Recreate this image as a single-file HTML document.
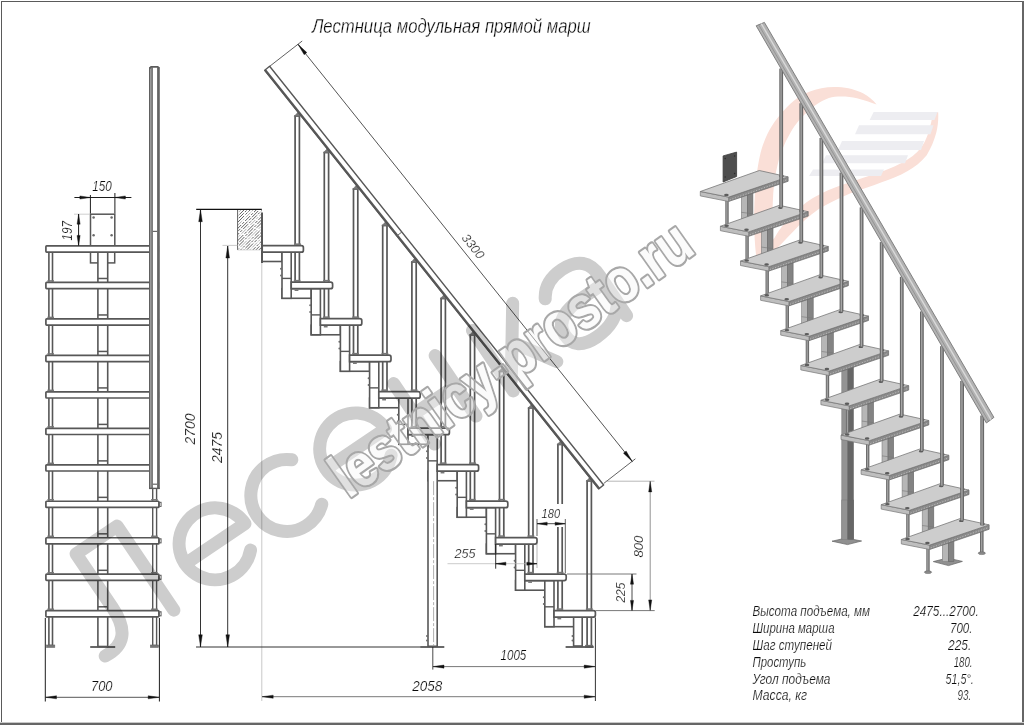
<!DOCTYPE html>
<html lang="ru"><head><meta charset="utf-8"><title>Лестница модульная прямой марш</title>
<style>html,body{margin:0;padding:0;background:#fff;overflow:hidden}svg{display:block;font-family:"Liberation Sans",sans-serif}</style></head><body>
<svg width="1024" height="725" viewBox="0 0 1024 725">
<rect x="0" y="0" width="1024" height="725" fill="#fff"/>
<rect x="1" y="1" width="1021" height="1" fill="#5a5a5a"/>
<rect x="1" y="1" width="1" height="722" fill="#5a5a5a"/>
<rect x="1022" y="1" width="2" height="724" fill="#666"/>
<rect x="0" y="722" width="1024" height="1" fill="#c8c8c8"/>
<rect x="0" y="723" width="1024" height="2" fill="#666"/>
<g id="front">
<rect x="90.50" y="214.20" width="24.30" height="31.70" fill="#fff" stroke="#575757" stroke-width="1.5" rx="0" />
<circle cx="93.6" cy="217.6" r="1.25" fill="#6a6a6a"/>
<circle cx="93.6" cy="235.3" r="1.25" fill="#6a6a6a"/>
<circle cx="111.6" cy="217.6" r="1.25" fill="#6a6a6a"/>
<circle cx="111.6" cy="235.3" r="1.25" fill="#6a6a6a"/>
<rect x="90.50" y="252.10" width="24.20" height="10.80" fill="#fff" stroke="#575757" stroke-width="1.5" rx="0" />
<rect x="48.90" y="250.00" width="3.60" height="395.50" fill="#fff" stroke="#575757" stroke-width="1.6" rx="0" />
<rect x="46.60" y="645.00" width="8.20" height="2.40" fill="#777" stroke="#666" stroke-width="0.6" rx="0" />
<rect x="152.70" y="486.00" width="3.90" height="159.50" fill="#fff" stroke="#575757" stroke-width="1.4" rx="0" />
<rect x="150.40" y="645.00" width="8.00" height="2.40" fill="#777" stroke="#666" stroke-width="0.6" rx="0" />
<rect x="97.90" y="250.00" width="9.80" height="396.50" fill="#fff" stroke="#575757" stroke-width="1.6" rx="0" />
<line x1="90.20" y1="647.00" x2="115.20" y2="647.00" stroke="#575757" stroke-width="1.8" />
<rect x="45.90" y="245.90" width="113.00" height="6.20" fill="#fff" stroke="#575757" stroke-width="1.7" rx="0.8" />
<rect x="45.90" y="282.38" width="113.00" height="6.20" fill="#fff" stroke="#575757" stroke-width="1.7" rx="0.8" />
<line x1="97.90" y1="278.48" x2="107.70" y2="278.48" stroke="#575757" stroke-width="1.5" />
<rect x="47.4" y="280.18" width="6.6" height="1.6" fill="#777"/>
<rect x="45.90" y="318.86" width="113.00" height="6.20" fill="#fff" stroke="#575757" stroke-width="1.7" rx="0.8" />
<line x1="97.90" y1="314.96" x2="107.70" y2="314.96" stroke="#575757" stroke-width="1.5" />
<rect x="47.4" y="316.66" width="6.6" height="1.6" fill="#777"/>
<rect x="45.90" y="355.34" width="113.00" height="6.20" fill="#fff" stroke="#575757" stroke-width="1.7" rx="0.8" />
<line x1="97.90" y1="351.44" x2="107.70" y2="351.44" stroke="#575757" stroke-width="1.5" />
<rect x="47.4" y="353.14" width="6.6" height="1.6" fill="#777"/>
<rect x="45.90" y="391.82" width="113.00" height="6.20" fill="#fff" stroke="#575757" stroke-width="1.7" rx="0.8" />
<line x1="97.90" y1="387.92" x2="107.70" y2="387.92" stroke="#575757" stroke-width="1.5" />
<rect x="47.4" y="389.62" width="6.6" height="1.6" fill="#777"/>
<rect x="45.90" y="428.30" width="113.00" height="6.20" fill="#fff" stroke="#575757" stroke-width="1.7" rx="0.8" />
<line x1="97.90" y1="424.40" x2="107.70" y2="424.40" stroke="#575757" stroke-width="1.5" />
<rect x="47.4" y="426.10" width="6.6" height="1.6" fill="#777"/>
<rect x="45.90" y="464.78" width="113.00" height="6.20" fill="#fff" stroke="#575757" stroke-width="1.7" rx="0.8" />
<line x1="97.90" y1="460.88" x2="107.70" y2="460.88" stroke="#575757" stroke-width="1.5" />
<rect x="47.4" y="462.58" width="6.6" height="1.6" fill="#777"/>
<rect x="45.90" y="501.26" width="113.00" height="6.20" fill="#fff" stroke="#575757" stroke-width="1.7" rx="0.8" />
<line x1="97.90" y1="497.36" x2="107.70" y2="497.36" stroke="#575757" stroke-width="1.5" />
<rect x="47.4" y="499.06" width="6.6" height="1.6" fill="#777"/>
<rect x="159.6" y="502.26" width="1.5" height="4.2" fill="#fff" stroke="#575757" stroke-width="0.9"/>
<rect x="151.1" y="499.06" width="6.6" height="1.6" fill="#777"/>
<rect x="45.90" y="537.74" width="113.00" height="6.20" fill="#fff" stroke="#575757" stroke-width="1.7" rx="0.8" />
<line x1="97.90" y1="533.84" x2="107.70" y2="533.84" stroke="#575757" stroke-width="1.5" />
<rect x="47.4" y="535.54" width="6.6" height="1.6" fill="#777"/>
<rect x="159.6" y="538.74" width="1.5" height="4.2" fill="#fff" stroke="#575757" stroke-width="0.9"/>
<rect x="151.1" y="535.54" width="6.6" height="1.6" fill="#777"/>
<rect x="45.90" y="574.22" width="113.00" height="6.20" fill="#fff" stroke="#575757" stroke-width="1.7" rx="0.8" />
<line x1="97.90" y1="570.32" x2="107.70" y2="570.32" stroke="#575757" stroke-width="1.5" />
<rect x="47.4" y="572.02" width="6.6" height="1.6" fill="#777"/>
<rect x="159.6" y="575.22" width="1.5" height="4.2" fill="#fff" stroke="#575757" stroke-width="0.9"/>
<rect x="151.1" y="572.02" width="6.6" height="1.6" fill="#777"/>
<rect x="45.90" y="610.70" width="113.00" height="6.20" fill="#fff" stroke="#575757" stroke-width="1.7" rx="0.8" />
<line x1="97.90" y1="606.80" x2="107.70" y2="606.80" stroke="#575757" stroke-width="1.5" />
<rect x="47.4" y="608.50" width="6.6" height="1.6" fill="#777"/>
<rect x="159.6" y="611.70" width="1.5" height="4.2" fill="#fff" stroke="#575757" stroke-width="0.9"/>
<rect x="151.1" y="608.50" width="6.6" height="1.6" fill="#777"/>
<path d="M149.0 488.6 V68.2 L150.8 66.1 H158.0 L159.8 68.2 V488.6 Z" fill="#fff" stroke="none"/>
<rect x="149.0" y="67.4" width="3.7" height="421.4" fill="#a9a9a9"/>
<rect x="149.0" y="67.4" width="1.2" height="421.4" fill="#606060"/>
<rect x="151.5" y="67.4" width="1.2" height="421.4" fill="#606060"/>
<rect x="157.1" y="67.4" width="2.7" height="421.4" fill="#646464"/>
<path d="M149.6 68.4 L151.0 66.9 H157.8 L159.2 68.4" fill="none" stroke="#5c5c5c" stroke-width="1.7" stroke-linejoin="round"/>
<line x1="152.70" y1="231.40" x2="157.10" y2="231.40" stroke="#666" stroke-width="1.2" />
<line x1="149.00" y1="488.40" x2="159.80" y2="488.40" stroke="#5c5c5c" stroke-width="1.4" />
<line x1="152.70" y1="484.20" x2="157.10" y2="484.20" stroke="#666" stroke-width="1.2" />
<line x1="90.40" y1="195.00" x2="90.40" y2="213.50" stroke="#1c1c1c" stroke-width="1.0" />
<line x1="114.90" y1="193.00" x2="114.90" y2="213.50" stroke="#1c1c1c" stroke-width="1.0" />
<line x1="74.40" y1="197.50" x2="131.40" y2="197.50" stroke="#1c1c1c" stroke-width="1.0" />
<polygon points="90.40,197.50 79.90,195.95 79.90,199.05" fill="#111" stroke="#111" stroke-width="0.4"/>
<polygon points="114.90,197.50 125.40,199.05 125.40,195.95" fill="#111" stroke="#111" stroke-width="0.4"/>
<text x="92.30" y="190.60" font-size="14" text-anchor="start" fill="#0a0a0a" font-style="italic" font-weight="normal" stroke="#fff" stroke-width="0.22" textLength="19.5" lengthAdjust="spacingAndGlyphs" >150</text>
<line x1="74.00" y1="214.20" x2="90.00" y2="214.20" stroke="#c4c4c4" stroke-width="0.8" />
<line x1="78.60" y1="214.00" x2="78.60" y2="245.60" stroke="#1c1c1c" stroke-width="1.0" />
<polygon points="78.60,214.20 77.05,224.20 80.15,224.20" fill="#111" stroke="#111" stroke-width="0.4"/>
<polygon points="78.60,245.40 80.15,235.40 77.05,235.40" fill="#111" stroke="#111" stroke-width="0.4"/>
<text x="71.60" y="240.50" font-size="14" text-anchor="start" fill="#0a0a0a" font-style="italic" font-weight="normal" stroke="#fff" stroke-width="0.22" textLength="19.5" lengthAdjust="spacingAndGlyphs" transform="rotate(-90 71.60 240.50)" >197</text>
<line x1="45.30" y1="618.00" x2="45.30" y2="701.50" stroke="#1c1c1c" stroke-width="1.0" />
<line x1="159.40" y1="618.00" x2="159.40" y2="701.50" stroke="#1c1c1c" stroke-width="1.0" />
<line x1="45.30" y1="697.30" x2="159.40" y2="697.30" stroke="#444" stroke-width="0.9" />
<polygon points="45.50,697.30 56.50,698.85 56.50,695.75" fill="#111" stroke="#111" stroke-width="0.4"/>
<polygon points="159.20,697.30 148.20,695.75 148.20,698.85" fill="#111" stroke="#111" stroke-width="0.4"/>
<text x="91.00" y="690.60" font-size="14" text-anchor="start" fill="#0a0a0a" font-style="italic" font-weight="normal" stroke="#fff" stroke-width="0.22" textLength="21.5" lengthAdjust="spacingAndGlyphs" >700</text>
</g>
<g id="side">
<line x1="261.80" y1="262.00" x2="261.80" y2="701.00" stroke="#c2c2c2" stroke-width="0.9" />
<clipPath id="wc"><rect x="237.5" y="209.5" width="24.3" height="40.5"/></clipPath>
<g clip-path="url(#wc)">
<line x1="188.70" y1="250.00" x2="229.20" y2="209.50" stroke="#9a9a9a" stroke-width="0.8" stroke-dasharray="7 1.5 2.5 1.5" stroke-dashoffset="8"/>
<line x1="191.75" y1="250.00" x2="232.25" y2="209.50" stroke="#3a3a3a" stroke-width="0.8" stroke-dasharray="3 1.2 9 1.8" stroke-dashoffset="2"/>
<line x1="194.80" y1="250.00" x2="235.30" y2="209.50" stroke="#3a3a3a" stroke-width="0.8" stroke-dasharray="7 1.5 2.5 1.5" stroke-dashoffset="7"/>
<line x1="197.85" y1="250.00" x2="238.35" y2="209.50" stroke="#3a3a3a" stroke-width="0.8" stroke-dasharray="7 1.5 2.5 1.5" stroke-dashoffset="1"/>
<line x1="200.90" y1="250.00" x2="241.40" y2="209.50" stroke="#9a9a9a" stroke-width="0.8" stroke-dasharray="3 1.2 9 1.8" stroke-dashoffset="6"/>
<line x1="203.95" y1="250.00" x2="244.45" y2="209.50" stroke="#3a3a3a" stroke-width="0.8" stroke-dasharray="7 1.5 2.5 1.5" stroke-dashoffset="0"/>
<line x1="207.00" y1="250.00" x2="247.50" y2="209.50" stroke="#3a3a3a" stroke-width="0.8" stroke-dasharray="7 1.5 2.5 1.5" stroke-dashoffset="5"/>
<line x1="210.05" y1="250.00" x2="250.55" y2="209.50" stroke="#3a3a3a" stroke-width="0.8" stroke-dasharray="3 1.2 9 1.8" stroke-dashoffset="10"/>
<line x1="213.10" y1="250.00" x2="253.60" y2="209.50" stroke="#9a9a9a" stroke-width="0.8" stroke-dasharray="7 1.5 2.5 1.5" stroke-dashoffset="4"/>
<line x1="216.15" y1="250.00" x2="256.65" y2="209.50" stroke="#3a3a3a" stroke-width="0.8" stroke-dasharray="7 1.5 2.5 1.5" stroke-dashoffset="9"/>
<line x1="219.20" y1="250.00" x2="259.70" y2="209.50" stroke="#3a3a3a" stroke-width="0.8" stroke-dasharray="3 1.2 9 1.8" stroke-dashoffset="3"/>
<line x1="222.25" y1="250.00" x2="262.75" y2="209.50" stroke="#3a3a3a" stroke-width="0.8" stroke-dasharray="7 1.5 2.5 1.5" stroke-dashoffset="8"/>
<line x1="225.30" y1="250.00" x2="265.80" y2="209.50" stroke="#9a9a9a" stroke-width="0.8" stroke-dasharray="7 1.5 2.5 1.5" stroke-dashoffset="2"/>
<line x1="228.35" y1="250.00" x2="268.85" y2="209.50" stroke="#3a3a3a" stroke-width="0.8" stroke-dasharray="3 1.2 9 1.8" stroke-dashoffset="7"/>
<line x1="231.40" y1="250.00" x2="271.90" y2="209.50" stroke="#3a3a3a" stroke-width="0.8" stroke-dasharray="7 1.5 2.5 1.5" stroke-dashoffset="1"/>
<line x1="234.45" y1="250.00" x2="274.95" y2="209.50" stroke="#3a3a3a" stroke-width="0.8" stroke-dasharray="7 1.5 2.5 1.5" stroke-dashoffset="6"/>
<line x1="237.50" y1="250.00" x2="278.00" y2="209.50" stroke="#9a9a9a" stroke-width="0.8" stroke-dasharray="3 1.2 9 1.8" stroke-dashoffset="0"/>
<line x1="240.55" y1="250.00" x2="281.05" y2="209.50" stroke="#3a3a3a" stroke-width="0.8" stroke-dasharray="7 1.5 2.5 1.5" stroke-dashoffset="5"/>
<line x1="243.60" y1="250.00" x2="284.10" y2="209.50" stroke="#3a3a3a" stroke-width="0.8" stroke-dasharray="7 1.5 2.5 1.5" stroke-dashoffset="10"/>
<line x1="246.65" y1="250.00" x2="287.15" y2="209.50" stroke="#3a3a3a" stroke-width="0.8" stroke-dasharray="3 1.2 9 1.8" stroke-dashoffset="4"/>
<line x1="249.70" y1="250.00" x2="290.20" y2="209.50" stroke="#9a9a9a" stroke-width="0.8" stroke-dasharray="7 1.5 2.5 1.5" stroke-dashoffset="9"/>
<line x1="252.75" y1="250.00" x2="293.25" y2="209.50" stroke="#3a3a3a" stroke-width="0.8" stroke-dasharray="7 1.5 2.5 1.5" stroke-dashoffset="3"/>
<line x1="255.80" y1="250.00" x2="296.30" y2="209.50" stroke="#3a3a3a" stroke-width="0.8" stroke-dasharray="3 1.2 9 1.8" stroke-dashoffset="8"/>
<line x1="258.85" y1="250.00" x2="299.35" y2="209.50" stroke="#3a3a3a" stroke-width="0.8" stroke-dasharray="7 1.5 2.5 1.5" stroke-dashoffset="2"/>
<line x1="261.90" y1="250.00" x2="302.40" y2="209.50" stroke="#9a9a9a" stroke-width="0.8" stroke-dasharray="7 1.5 2.5 1.5" stroke-dashoffset="7"/>
<line x1="264.95" y1="250.00" x2="305.45" y2="209.50" stroke="#3a3a3a" stroke-width="0.8" stroke-dasharray="3 1.2 9 1.8" stroke-dashoffset="1"/>
<line x1="268.00" y1="250.00" x2="308.50" y2="209.50" stroke="#3a3a3a" stroke-width="0.8" stroke-dasharray="7 1.5 2.5 1.5" stroke-dashoffset="6"/>
<line x1="271.05" y1="250.00" x2="311.55" y2="209.50" stroke="#3a3a3a" stroke-width="0.8" stroke-dasharray="7 1.5 2.5 1.5" stroke-dashoffset="0"/>
</g>
<line x1="262.00" y1="212.50" x2="262.00" y2="263.00" stroke="#575757" stroke-width="2.0" />
<line x1="237.60" y1="209.50" x2="237.60" y2="250.00" stroke="#555" stroke-width="0.9" />
<line x1="237.50" y1="250.00" x2="262.50" y2="250.00" stroke="#cfcfcf" stroke-width="0.7" />
<line x1="196.00" y1="647.00" x2="421.00" y2="647.00" stroke="#333" stroke-width="1.0" />
<rect x="295.10" y="116.00" width="4.30" height="166.19" fill="#fff" stroke="#575757" stroke-width="1.7" rx="0" />
<polygon points="294.25,116.30 298.55,111.60 300.25,116.30" fill="#777" stroke="#6a6a6a" stroke-width="0.5" stroke-linejoin="round" />
<rect x="324.30" y="152.49" width="4.30" height="166.19" fill="#fff" stroke="#575757" stroke-width="1.7" rx="0" />
<polygon points="323.45,152.79 327.75,148.09 329.45,152.79" fill="#777" stroke="#6a6a6a" stroke-width="0.5" stroke-linejoin="round" />
<rect x="353.50" y="188.98" width="4.30" height="166.19" fill="#fff" stroke="#575757" stroke-width="1.7" rx="0" />
<polygon points="352.65,189.28 356.95,184.58 358.65,189.28" fill="#777" stroke="#6a6a6a" stroke-width="0.5" stroke-linejoin="round" />
<rect x="382.70" y="225.47" width="4.30" height="166.19" fill="#fff" stroke="#575757" stroke-width="1.7" rx="0" />
<polygon points="381.85,225.77 386.15,221.07 387.85,225.77" fill="#777" stroke="#6a6a6a" stroke-width="0.5" stroke-linejoin="round" />
<rect x="411.90" y="261.96" width="4.30" height="166.19" fill="#fff" stroke="#575757" stroke-width="1.7" rx="0" />
<polygon points="411.05,262.26 415.35,257.56 417.05,262.26" fill="#777" stroke="#6a6a6a" stroke-width="0.5" stroke-linejoin="round" />
<rect x="441.10" y="298.45" width="4.30" height="166.19" fill="#fff" stroke="#575757" stroke-width="1.7" rx="0" />
<polygon points="440.25,298.75 444.55,294.05 446.25,298.75" fill="#777" stroke="#6a6a6a" stroke-width="0.5" stroke-linejoin="round" />
<rect x="470.30" y="334.94" width="4.30" height="166.19" fill="#fff" stroke="#575757" stroke-width="1.7" rx="0" />
<polygon points="469.45,335.24 473.75,330.54 475.45,335.24" fill="#777" stroke="#6a6a6a" stroke-width="0.5" stroke-linejoin="round" />
<rect x="499.50" y="371.43" width="4.30" height="166.19" fill="#fff" stroke="#575757" stroke-width="1.7" rx="0" />
<polygon points="498.65,371.73 502.95,367.03 504.65,371.73" fill="#777" stroke="#6a6a6a" stroke-width="0.5" stroke-linejoin="round" />
<rect x="528.70" y="407.92" width="4.30" height="166.19" fill="#fff" stroke="#575757" stroke-width="1.7" rx="0" />
<polygon points="527.85,408.22 532.15,403.52 533.85,408.22" fill="#777" stroke="#6a6a6a" stroke-width="0.5" stroke-linejoin="round" />
<rect x="557.90" y="444.41" width="4.30" height="166.19" fill="#fff" stroke="#575757" stroke-width="1.7" rx="0" />
<polygon points="557.05,444.71 561.35,440.01 563.05,444.71" fill="#777" stroke="#6a6a6a" stroke-width="0.5" stroke-linejoin="round" />
<rect x="587.10" y="480.90" width="4.30" height="165.10" fill="#fff" stroke="#575757" stroke-width="1.7" rx="0" />
<polygon points="586.25,481.20 590.55,476.50 592.25,481.20" fill="#777" stroke="#6a6a6a" stroke-width="0.5" stroke-linejoin="round" />
<rect x="585.65" y="645.20" width="7.20" height="2.40" fill="#777" stroke="#666" stroke-width="0.6" rx="0" />
<rect x="262.20" y="252.20" width="19.80" height="9.30" fill="#fff" stroke="#575757" stroke-width="1.6" rx="0" />
<rect x="282.00" y="288.69" width="29.20" height="9.60" fill="#fff" stroke="#575757" stroke-width="1.6" rx="0" />
<rect x="282.00" y="252.20" width="9.20" height="46.09" fill="#fff" stroke="#575757" stroke-width="1.6" rx="0" />
<line x1="282.00" y1="278.40" x2="291.20" y2="278.40" stroke="#575757" stroke-width="1.4" />
<circle cx="281.00" cy="268.80" r="1.0" fill="#6a6a6a"/>
<circle cx="281.00" cy="275.50" r="1.0" fill="#6a6a6a"/>
<rect x="311.20" y="325.18" width="29.20" height="9.60" fill="#fff" stroke="#575757" stroke-width="1.6" rx="0" />
<rect x="311.20" y="288.69" width="9.20" height="46.09" fill="#fff" stroke="#575757" stroke-width="1.6" rx="0" />
<line x1="311.20" y1="314.89" x2="320.40" y2="314.89" stroke="#575757" stroke-width="1.4" />
<circle cx="310.20" cy="305.29" r="1.0" fill="#6a6a6a"/>
<circle cx="310.20" cy="311.99" r="1.0" fill="#6a6a6a"/>
<rect x="340.40" y="361.67" width="29.20" height="9.60" fill="#fff" stroke="#575757" stroke-width="1.6" rx="0" />
<rect x="340.40" y="325.18" width="9.20" height="46.09" fill="#fff" stroke="#575757" stroke-width="1.6" rx="0" />
<line x1="340.40" y1="351.38" x2="349.60" y2="351.38" stroke="#575757" stroke-width="1.4" />
<circle cx="339.40" cy="341.78" r="1.0" fill="#6a6a6a"/>
<circle cx="339.40" cy="348.48" r="1.0" fill="#6a6a6a"/>
<rect x="369.60" y="398.16" width="29.20" height="9.60" fill="#fff" stroke="#575757" stroke-width="1.6" rx="0" />
<rect x="369.60" y="361.67" width="9.20" height="46.09" fill="#fff" stroke="#575757" stroke-width="1.6" rx="0" />
<line x1="369.60" y1="387.87" x2="378.80" y2="387.87" stroke="#575757" stroke-width="1.4" />
<circle cx="368.60" cy="378.27" r="1.0" fill="#6a6a6a"/>
<circle cx="368.60" cy="384.97" r="1.0" fill="#6a6a6a"/>
<rect x="398.80" y="434.65" width="29.20" height="9.60" fill="#fff" stroke="#575757" stroke-width="1.6" rx="0" />
<rect x="398.80" y="398.16" width="9.20" height="46.09" fill="#fff" stroke="#575757" stroke-width="1.6" rx="0" />
<line x1="398.80" y1="424.36" x2="408.00" y2="424.36" stroke="#575757" stroke-width="1.4" />
<circle cx="397.80" cy="414.76" r="1.0" fill="#6a6a6a"/>
<circle cx="397.80" cy="421.46" r="1.0" fill="#6a6a6a"/>
<rect x="428.00" y="471.14" width="29.20" height="9.60" fill="#fff" stroke="#575757" stroke-width="1.6" rx="0" />
<rect x="428.00" y="434.65" width="9.20" height="211.65" fill="#fff" stroke="#575757" stroke-width="1.6" rx="0" />
<line x1="433.60" y1="481.14" x2="433.60" y2="646.00" stroke="#9a9a9a" stroke-width="0.8" stroke-dasharray="14 2 3 2"/>
<line x1="420.50" y1="647.00" x2="444.30" y2="647.00" stroke="#575757" stroke-width="1.8" />
<circle cx="427.00" cy="636" r="1.0" fill="#6a6a6a"/>
<circle cx="427.00" cy="640.5" r="1.0" fill="#6a6a6a"/>
<line x1="428.00" y1="460.85" x2="437.20" y2="460.85" stroke="#575757" stroke-width="1.4" />
<circle cx="427.00" cy="451.25" r="1.0" fill="#6a6a6a"/>
<circle cx="427.00" cy="457.95" r="1.0" fill="#6a6a6a"/>
<rect x="457.20" y="507.63" width="29.20" height="9.60" fill="#fff" stroke="#575757" stroke-width="1.6" rx="0" />
<rect x="457.20" y="471.14" width="9.20" height="46.09" fill="#fff" stroke="#575757" stroke-width="1.6" rx="0" />
<line x1="457.20" y1="497.34" x2="466.40" y2="497.34" stroke="#575757" stroke-width="1.4" />
<circle cx="456.20" cy="487.74" r="1.0" fill="#6a6a6a"/>
<circle cx="456.20" cy="494.44" r="1.0" fill="#6a6a6a"/>
<rect x="486.40" y="544.12" width="29.20" height="9.60" fill="#fff" stroke="#575757" stroke-width="1.6" rx="0" />
<rect x="486.40" y="507.63" width="9.20" height="46.09" fill="#fff" stroke="#575757" stroke-width="1.6" rx="0" />
<line x1="486.40" y1="533.83" x2="495.60" y2="533.83" stroke="#575757" stroke-width="1.4" />
<circle cx="485.40" cy="524.23" r="1.0" fill="#6a6a6a"/>
<circle cx="485.40" cy="530.93" r="1.0" fill="#6a6a6a"/>
<rect x="515.60" y="580.61" width="29.20" height="9.60" fill="#fff" stroke="#575757" stroke-width="1.6" rx="0" />
<rect x="515.60" y="544.12" width="9.20" height="46.09" fill="#fff" stroke="#575757" stroke-width="1.6" rx="0" />
<line x1="515.60" y1="570.32" x2="524.80" y2="570.32" stroke="#575757" stroke-width="1.4" />
<circle cx="514.60" cy="560.72" r="1.0" fill="#6a6a6a"/>
<circle cx="514.60" cy="567.42" r="1.0" fill="#6a6a6a"/>
<rect x="544.80" y="617.10" width="29.20" height="9.60" fill="#fff" stroke="#575757" stroke-width="1.6" rx="0" />
<rect x="544.80" y="580.61" width="9.20" height="46.09" fill="#fff" stroke="#575757" stroke-width="1.6" rx="0" />
<line x1="544.80" y1="606.81" x2="554.00" y2="606.81" stroke="#575757" stroke-width="1.4" />
<circle cx="543.80" cy="597.21" r="1.0" fill="#6a6a6a"/>
<circle cx="543.80" cy="603.91" r="1.0" fill="#6a6a6a"/>
<rect x="573.60" y="617.10" width="8.60" height="28.90" fill="#fff" stroke="#575757" stroke-width="1.6" rx="0" />
<line x1="565.60" y1="647.00" x2="593.70" y2="647.00" stroke="#575757" stroke-width="1.8" />
<circle cx="572.5" cy="636" r="1.0" fill="#6a6a6a"/>
<circle cx="572.5" cy="640.5" r="1.0" fill="#6a6a6a"/>
<path d="M262.20 245.70 H301.40 Q303.40 245.70 303.40 247.70 V250.20 Q303.40 252.20 301.40 252.20 H262.20 Z" fill="#fff" stroke="#575757" stroke-width="1.7"/>
<rect x="294.10" y="243.40" width="6.8" height="1.6" fill="#777"/>
<path d="M291.20 282.19 H330.60 Q332.60 282.19 332.60 284.19 V286.69 Q332.60 288.69 330.60 288.69 H291.20 Z" fill="#fff" stroke="#575757" stroke-width="1.7"/>
<rect x="293.80" y="279.89" width="6.6" height="1.6" fill="#777"/>
<rect x="294.60" y="289.39" width="3.8" height="1.6" fill="#777"/>
<rect x="323.10" y="279.89" width="6.8" height="1.6" fill="#777"/>
<path d="M320.40 318.68 H359.80 Q361.80 318.68 361.80 320.68 V323.18 Q361.80 325.18 359.80 325.18 H320.40 Z" fill="#fff" stroke="#575757" stroke-width="1.7"/>
<rect x="323.00" y="316.38" width="6.6" height="1.6" fill="#777"/>
<rect x="323.80" y="325.88" width="3.8" height="1.6" fill="#777"/>
<rect x="352.30" y="316.38" width="6.8" height="1.6" fill="#777"/>
<path d="M349.60 355.17 H389.00 Q391.00 355.17 391.00 357.17 V359.67 Q391.00 361.67 389.00 361.67 H349.60 Z" fill="#fff" stroke="#575757" stroke-width="1.7"/>
<rect x="352.20" y="352.87" width="6.6" height="1.6" fill="#777"/>
<rect x="353.00" y="362.37" width="3.8" height="1.6" fill="#777"/>
<rect x="381.50" y="352.87" width="6.8" height="1.6" fill="#777"/>
<path d="M378.80 391.66 H418.20 Q420.20 391.66 420.20 393.66 V396.16 Q420.20 398.16 418.20 398.16 H378.80 Z" fill="#fff" stroke="#575757" stroke-width="1.7"/>
<rect x="381.40" y="389.36" width="6.6" height="1.6" fill="#777"/>
<rect x="382.20" y="398.86" width="3.8" height="1.6" fill="#777"/>
<rect x="410.70" y="389.36" width="6.8" height="1.6" fill="#777"/>
<path d="M408.00 428.15 H447.40 Q449.40 428.15 449.40 430.15 V432.65 Q449.40 434.65 447.40 434.65 H408.00 Z" fill="#fff" stroke="#575757" stroke-width="1.7"/>
<rect x="410.60" y="425.85" width="6.6" height="1.6" fill="#777"/>
<rect x="411.40" y="435.35" width="3.8" height="1.6" fill="#777"/>
<rect x="439.90" y="425.85" width="6.8" height="1.6" fill="#777"/>
<path d="M437.20 464.64 H476.60 Q478.60 464.64 478.60 466.64 V469.14 Q478.60 471.14 476.60 471.14 H437.20 Z" fill="#fff" stroke="#575757" stroke-width="1.7"/>
<rect x="439.80" y="462.34" width="6.6" height="1.6" fill="#777"/>
<rect x="440.60" y="471.84" width="3.8" height="1.6" fill="#777"/>
<rect x="469.10" y="462.34" width="6.8" height="1.6" fill="#777"/>
<path d="M466.40 501.13 H505.80 Q507.80 501.13 507.80 503.13 V505.63 Q507.80 507.63 505.80 507.63 H466.40 Z" fill="#fff" stroke="#575757" stroke-width="1.7"/>
<rect x="469.00" y="498.83" width="6.6" height="1.6" fill="#777"/>
<rect x="469.80" y="508.33" width="3.8" height="1.6" fill="#777"/>
<rect x="498.30" y="498.83" width="6.8" height="1.6" fill="#777"/>
<path d="M495.60 537.62 H535.00 Q537.00 537.62 537.00 539.62 V542.12 Q537.00 544.12 535.00 544.12 H495.60 Z" fill="#fff" stroke="#575757" stroke-width="1.7"/>
<rect x="498.20" y="535.32" width="6.6" height="1.6" fill="#777"/>
<rect x="499.00" y="544.82" width="3.8" height="1.6" fill="#777"/>
<rect x="527.50" y="535.32" width="6.8" height="1.6" fill="#777"/>
<path d="M524.80 574.11 H564.20 Q566.20 574.11 566.20 576.11 V578.61 Q566.20 580.61 564.20 580.61 H524.80 Z" fill="#fff" stroke="#575757" stroke-width="1.7"/>
<rect x="527.40" y="571.81" width="6.6" height="1.6" fill="#777"/>
<rect x="528.20" y="581.31" width="3.8" height="1.6" fill="#777"/>
<rect x="556.70" y="571.81" width="6.8" height="1.6" fill="#777"/>
<path d="M554.00 610.60 H593.40 Q595.40 610.60 595.40 612.60 V615.10 Q595.40 617.10 593.40 617.10 H554.00 Z" fill="#fff" stroke="#575757" stroke-width="1.7"/>
<rect x="556.60" y="608.30" width="6.6" height="1.6" fill="#777"/>
<rect x="557.40" y="617.80" width="3.8" height="1.6" fill="#777"/>
<rect x="585.90" y="608.30" width="6.8" height="1.6" fill="#777"/>
<polygon points="264.70,70.20 269.62,66.27 603.62,484.97 598.70,488.90" fill="#fff" stroke="#575757" stroke-width="1.4" stroke-linejoin="round" />
<line x1="265.09" y1="69.89" x2="599.09" y2="488.59" stroke="#575757" stroke-width="2.3" />
<line x1="396.93" y1="235.91" x2="401.85" y2="231.98" stroke="#666" stroke-width="1.0" />
<line x1="269.70" y1="66.30" x2="302.20" y2="41.00" stroke="#1c1c1c" stroke-width="0.7" />
<line x1="603.80" y1="483.40" x2="635.40" y2="458.80" stroke="#1c1c1c" stroke-width="0.7" />
<line x1="298.00" y1="44.30" x2="632.30" y2="461.50" stroke="#1c1c1c" stroke-width="0.75" />
<polygon points="298.00,44.30 304.18,54.73 306.83,52.60" fill="#111" stroke="#111" stroke-width="0.4"/>
<polygon points="632.30,461.50 626.12,451.07 623.47,453.20" fill="#111" stroke="#111" stroke-width="0.4"/>
<text x="461.00" y="238.00" font-size="12.5" text-anchor="start" fill="#0a0a0a" font-style="italic" font-weight="normal" stroke="#fff" stroke-width="0.22" textLength="28.0" lengthAdjust="spacingAndGlyphs" transform="rotate(51.3 461.00 238.00)" >3300</text>
<line x1="196.20" y1="209.30" x2="261.80" y2="209.30" stroke="#111" stroke-width="1.2" />
<line x1="200.50" y1="209.50" x2="200.50" y2="647.00" stroke="#1c1c1c" stroke-width="0.9" />
<polygon points="200.50,209.70 198.70,221.70 202.30,221.70" fill="#111" stroke="#111" stroke-width="0.4"/>
<polygon points="200.50,646.80 202.30,634.80 198.70,634.80" fill="#111" stroke="#111" stroke-width="0.4"/>
<text x="195.20" y="444.60" font-size="14.5" text-anchor="start" fill="#0a0a0a" font-style="italic" font-weight="normal" stroke="#fff" stroke-width="0.22" textLength="31.0" lengthAdjust="spacingAndGlyphs" transform="rotate(-90 195.20 444.60)" >2700</text>
<line x1="222.50" y1="245.40" x2="237.50" y2="245.40" stroke="#bdbdbd" stroke-width="0.8" />
<line x1="227.70" y1="246.00" x2="227.70" y2="647.00" stroke="#1c1c1c" stroke-width="0.9" />
<polygon points="227.70,246.00 225.90,258.00 229.50,258.00" fill="#111" stroke="#111" stroke-width="0.4"/>
<polygon points="227.70,646.80 229.50,634.80 225.90,634.80" fill="#111" stroke="#111" stroke-width="0.4"/>
<text x="221.80" y="463.00" font-size="14.5" text-anchor="start" fill="#0a0a0a" font-style="italic" font-weight="normal" stroke="#fff" stroke-width="0.22" textLength="31.0" lengthAdjust="spacingAndGlyphs" transform="rotate(-90 221.80 463.00)" >2475</text>
<rect x="555.5" y="504" width="9" height="23" fill="#fff"/>
<line x1="537.00" y1="519.00" x2="537.00" y2="536.00" stroke="#1c1c1c" stroke-width="0.7" />
<line x1="565.30" y1="519.00" x2="565.30" y2="573.00" stroke="#1c1c1c" stroke-width="0.7" />
<line x1="537.00" y1="523.70" x2="565.30" y2="523.70" stroke="#1c1c1c" stroke-width="0.8" />
<polygon points="537.20,523.70 547.20,525.25 547.20,522.15" fill="#111" stroke="#111" stroke-width="0.4"/>
<polygon points="565.10,523.70 555.10,522.15 555.10,525.25" fill="#111" stroke="#111" stroke-width="0.4"/>
<text x="541.60" y="517.60" font-size="13.5" text-anchor="start" fill="#0a0a0a" font-style="italic" font-weight="normal" stroke="#fff" stroke-width="0.22" textLength="18.5" lengthAdjust="spacingAndGlyphs" >180</text>
<line x1="447.50" y1="563.70" x2="537.00" y2="563.70" stroke="#b5b5b5" stroke-width="0.7" />
<line x1="495.70" y1="544.00" x2="495.70" y2="568.70" stroke="#1c1c1c" stroke-width="0.9" />
<line x1="537.00" y1="544.00" x2="537.00" y2="568.00" stroke="#999" stroke-width="0.7" />
<line x1="495.70" y1="563.70" x2="505.00" y2="563.70" stroke="#1c1c1c" stroke-width="0.8" />
<line x1="527.00" y1="563.70" x2="537.00" y2="563.70" stroke="#1c1c1c" stroke-width="0.8" />
<polygon points="495.90,563.70 505.90,565.25 505.90,562.15" fill="#111" stroke="#111" stroke-width="0.4"/>
<polygon points="536.80,563.70 526.80,562.15 526.80,565.25" fill="#111" stroke="#111" stroke-width="0.4"/>
<text x="454.50" y="557.60" font-size="13.5" text-anchor="start" fill="#0a0a0a" font-style="italic" font-weight="normal" stroke="#fff" stroke-width="0.22" textLength="21.0" lengthAdjust="spacingAndGlyphs" >255</text>
<line x1="605.60" y1="481.20" x2="654.50" y2="481.20" stroke="#9a9a9a" stroke-width="0.7" />
<line x1="595.50" y1="610.60" x2="654.70" y2="610.60" stroke="#555" stroke-width="0.8" />
<line x1="650.20" y1="481.20" x2="650.20" y2="610.60" stroke="#777" stroke-width="0.8" />
<polygon points="650.20,481.40 648.65,491.90 651.75,491.90" fill="#111" stroke="#111" stroke-width="0.4"/>
<polygon points="650.20,610.40 651.75,599.90 648.65,599.90" fill="#111" stroke="#111" stroke-width="0.4"/>
<text x="643.20" y="557.60" font-size="13.5" text-anchor="start" fill="#0a0a0a" font-style="italic" font-weight="normal" stroke="#fff" stroke-width="0.22" textLength="22.0" lengthAdjust="spacingAndGlyphs" transform="rotate(-90 643.20 557.60)" >800</text>
<line x1="567.00" y1="574.00" x2="636.50" y2="574.00" stroke="#555" stroke-width="0.8" />
<line x1="632.00" y1="574.00" x2="632.00" y2="610.60" stroke="#1c1c1c" stroke-width="0.8" />
<polygon points="632.00,574.20 630.45,584.20 633.55,584.20" fill="#111" stroke="#111" stroke-width="0.4"/>
<polygon points="632.00,610.40 633.55,600.40 630.45,600.40" fill="#111" stroke="#111" stroke-width="0.4"/>
<text x="625.30" y="602.60" font-size="13.5" text-anchor="start" fill="#0a0a0a" font-style="italic" font-weight="normal" stroke="#fff" stroke-width="0.22" textLength="20.0" lengthAdjust="spacingAndGlyphs" transform="rotate(-90 625.30 602.60)" >225</text>
<line x1="432.80" y1="647.00" x2="432.80" y2="669.60" stroke="#1c1c1c" stroke-width="0.8" />
<line x1="595.40" y1="617.50" x2="595.40" y2="701.00" stroke="#1c1c1c" stroke-width="0.9" />
<line x1="432.80" y1="666.60" x2="595.40" y2="666.60" stroke="#555" stroke-width="0.8" />
<polygon points="433.00,666.60 444.00,668.15 444.00,665.05" fill="#111" stroke="#111" stroke-width="0.4"/>
<polygon points="595.20,666.60 584.20,665.05 584.20,668.15" fill="#111" stroke="#111" stroke-width="0.4"/>
<text x="500.60" y="660.40" font-size="14" text-anchor="start" fill="#0a0a0a" font-style="italic" font-weight="normal" stroke="#fff" stroke-width="0.22" textLength="25.7" lengthAdjust="spacingAndGlyphs" >1005</text>
<line x1="262.00" y1="696.70" x2="595.40" y2="696.70" stroke="#555" stroke-width="0.8" />
<polygon points="262.20,696.70 273.20,698.25 273.20,695.15" fill="#111" stroke="#111" stroke-width="0.4"/>
<polygon points="595.20,696.70 584.20,695.15 584.20,698.25" fill="#111" stroke="#111" stroke-width="0.4"/>
<text x="412.30" y="690.70" font-size="14" text-anchor="start" fill="#0a0a0a" font-style="italic" font-weight="normal" stroke="#fff" stroke-width="0.22" textLength="30.0" lengthAdjust="spacingAndGlyphs" >2058</text>
</g>
<text x="311.90" y="33.10" font-size="19.5" text-anchor="start" fill="#0a0a0a" font-style="italic" font-weight="normal" stroke="#fff" stroke-width="0.3" textLength="278.7" lengthAdjust="spacingAndGlyphs" >Лестница модульная прямой марш</text>
<text x="752.50" y="616.20" font-size="14.5" text-anchor="start" fill="#0a0a0a" font-style="italic" font-weight="normal" stroke="#fff" stroke-width="0.22" textLength="117.5" lengthAdjust="spacingAndGlyphs" >Высота подъема, мм</text>
<text x="913.20" y="616.20" font-size="14.5" text-anchor="start" fill="#0a0a0a" font-style="italic" font-weight="normal" stroke="#fff" stroke-width="0.22" textLength="65.5" lengthAdjust="spacingAndGlyphs" >2475...2700.</text>
<text x="752.50" y="633.05" font-size="14.5" text-anchor="start" fill="#0a0a0a" font-style="italic" font-weight="normal" stroke="#fff" stroke-width="0.22" textLength="82.0" lengthAdjust="spacingAndGlyphs" >Ширина марша</text>
<text x="950.00" y="633.05" font-size="14.5" text-anchor="start" fill="#0a0a0a" font-style="italic" font-weight="normal" stroke="#fff" stroke-width="0.22" textLength="22.5" lengthAdjust="spacingAndGlyphs" >700.</text>
<text x="752.50" y="649.90" font-size="14.5" text-anchor="start" fill="#0a0a0a" font-style="italic" font-weight="normal" stroke="#fff" stroke-width="0.22" textLength="79.5" lengthAdjust="spacingAndGlyphs" >Шаг ступеней</text>
<text x="948.00" y="649.90" font-size="14.5" text-anchor="start" fill="#0a0a0a" font-style="italic" font-weight="normal" stroke="#fff" stroke-width="0.22" textLength="23.2" lengthAdjust="spacingAndGlyphs" >225.</text>
<text x="752.50" y="666.75" font-size="14.5" text-anchor="start" fill="#0a0a0a" font-style="italic" font-weight="normal" stroke="#fff" stroke-width="0.22" textLength="53.7" lengthAdjust="spacingAndGlyphs" >Проступь</text>
<text x="953.70" y="666.75" font-size="14.5" text-anchor="start" fill="#0a0a0a" font-style="italic" font-weight="normal" stroke="#fff" stroke-width="0.22" textLength="18.8" lengthAdjust="spacingAndGlyphs" >180.</text>
<text x="752.50" y="683.60" font-size="14.5" text-anchor="start" fill="#0a0a0a" font-style="italic" font-weight="normal" stroke="#fff" stroke-width="0.22" textLength="78.0" lengthAdjust="spacingAndGlyphs" >Угол подъема</text>
<text x="945.50" y="683.60" font-size="14.5" text-anchor="start" fill="#0a0a0a" font-style="italic" font-weight="normal" stroke="#fff" stroke-width="0.22" textLength="28.2" lengthAdjust="spacingAndGlyphs" >51,5°.</text>
<text x="752.50" y="700.45" font-size="14.5" text-anchor="start" fill="#0a0a0a" font-style="italic" font-weight="normal" stroke="#fff" stroke-width="0.22" textLength="54.5" lengthAdjust="spacingAndGlyphs" >Масса, кг</text>
<text x="957.50" y="700.45" font-size="14.5" text-anchor="start" fill="#0a0a0a" font-style="italic" font-weight="normal" stroke="#fff" stroke-width="0.22" textLength="13.7" lengthAdjust="spacingAndGlyphs" >93.</text>
<g id="logo" style="mix-blend-mode:multiply">
<path d="M757 263 C753.5 238 753.5 210 755.4 187 C757 170 759 158 761.7 148.8 C766 135 772 124 780.8 114 C789 104 798 96 809.3 91.7 C818 88 828 86.5 837.9 87 C848 87.5 856 90 863 93.3 C869 96.5 873 100 876.6 104.6 C871 102.8 864 99.8 857 98.2 C850 96.6 842 96 834.7 96.8 C827 97.8 819 102 812.5 107.6 C803 115 796 123 790.3 133 C784 144 780 154 777.6 164.7 C774.5 177 773.2 190 772.8 202.8 C772.4 215 771.6 227 771 237.7 C768 248 763 257 757 263 Z" fill="#fadfd7"/>
<path d="M757 263 C762 252 768 245 774.4 238 C780 228 786 221 793.5 215.5 C800 207 807 201 815.7 196.4 C824 192 832 188.5 841 185.3 C851 182 860 179 869.6 175.8 C879 172.5 887 170 895 166.3 C904 162 911 158 917.2 152 C923 146 926 140 928.3 133 C930.5 126 932 120 933 112.3 L938.2 112.3 C938.5 119 938 126 936.2 133 C934 141 931 148 926.7 155.2 C921 162 915 167 907.7 171 C899 176 891 179 882.3 182 C872 186 861 189.5 850.6 193.2 C839 198 829 203 818.8 209 C809 216 801 223 793.5 231.3 C785 240 777 249 768 256.7 C764 260 760 262 757 263 Z" fill="#fadfd7"/>
<polygon points="873.6,112 937.5,112 934.5,120 869.6,120" fill="#ededf1"/>
<polygon points="859,125.3 933.5,125.3 930.5,134.3 855,134.3" fill="#ededf1"/>
<polygon points="842,141 924,141 921,150 838,150" fill="#ededf1"/>
<polygon points="826,155.3 908,155.3 905,163.3 822,163.3" fill="#ededf1"/>
<polygon points="813,169.5 884,169.5 881,176 809,176" fill="#ededf1"/>
</g>
<g id="iso">
<polygon points="723.10,155.90 736.60,152.10 736.60,176.50 723.10,182.00" fill="#4e4e4e" stroke="#3c3c3c" stroke-width="0.8" stroke-linejoin="round" />
<circle cx="725.2" cy="158.5" r="0.7" fill="#2b2b2b"/>
<circle cx="734.6" cy="156" r="0.7" fill="#2b2b2b"/>
<circle cx="725.2" cy="177" r="0.7" fill="#2b2b2b"/>
<circle cx="734.6" cy="173.5" r="0.7" fill="#2b2b2b"/>
<rect x="741.30" y="189.50" width="6.03" height="36.80" fill="#b6b6b6" stroke="#808080" stroke-width="0.6"/>
<rect x="747.33" y="189.50" width="5.57" height="36.80" fill="#838383" stroke="#666" stroke-width="0.6"/>
<line x1="741.30" y1="212.30" x2="752.90" y2="213.80" stroke="#777" stroke-width="0.6"/>
<rect x="725.30" y="199.50" width="3.40" height="25.30" fill="#6c6c6c"/>
<rect x="726.25" y="199.50" width="1.22" height="25.30" fill="#a2a2a2"/>
<polygon points="728.60,197.10 788.10,176.90 788.10,181.30 728.60,201.50" fill="#8a8a8a" stroke="#686868" stroke-width="0.7" stroke-linejoin="round" />
<polygon points="700.30,191.50 728.60,197.10 728.60,201.50 700.30,195.90" fill="#bebebe" stroke="#777" stroke-width="0.7" stroke-linejoin="round" />
<polygon points="700.30,191.50 759.30,170.50 788.10,176.90 728.60,197.10" fill="#cdcdcd" stroke="#777" stroke-width="0.8" stroke-linejoin="round" />
<line x1="729.60" y1="199.90" x2="787.10" y2="179.70" stroke="#bdbdbd" stroke-width="0.9" stroke-dasharray="1.2 1.6"/>
<ellipse cx="726.40" cy="194.90" rx="2.3" ry="1.2" fill="#5c5c5c"/>
<ellipse cx="781.50" cy="176.10" rx="2.3" ry="1.2" fill="#5c5c5c"/>
<rect x="761.40" y="224.30" width="6.03" height="36.80" fill="#b6b6b6" stroke="#808080" stroke-width="0.6"/>
<rect x="767.43" y="224.30" width="5.57" height="36.80" fill="#838383" stroke="#666" stroke-width="0.6"/>
<line x1="761.40" y1="247.10" x2="773.00" y2="248.60" stroke="#777" stroke-width="0.6"/>
<rect x="745.40" y="234.30" width="3.40" height="25.30" fill="#6c6c6c"/>
<rect x="746.35" y="234.30" width="1.22" height="25.30" fill="#a2a2a2"/>
<polygon points="748.70,231.90 808.20,211.70 808.20,216.10 748.70,236.30" fill="#8a8a8a" stroke="#686868" stroke-width="0.7" stroke-linejoin="round" />
<polygon points="720.40,226.30 748.70,231.90 748.70,236.30 720.40,230.70" fill="#bebebe" stroke="#777" stroke-width="0.7" stroke-linejoin="round" />
<polygon points="720.40,226.30 779.40,205.30 808.20,211.70 748.70,231.90" fill="#cdcdcd" stroke="#777" stroke-width="0.8" stroke-linejoin="round" />
<line x1="749.70" y1="234.70" x2="807.20" y2="214.50" stroke="#bdbdbd" stroke-width="0.9" stroke-dasharray="1.2 1.6"/>
<ellipse cx="746.50" cy="229.70" rx="2.3" ry="1.2" fill="#5c5c5c"/>
<ellipse cx="801.60" cy="210.90" rx="2.3" ry="1.2" fill="#5c5c5c"/>
<ellipse cx="726.60" cy="225.70" rx="2.3" ry="1.2" fill="#5c5c5c"/>
<ellipse cx="780.40" cy="207.70" rx="2.3" ry="1.2" fill="#5c5c5c"/>
<rect x="781.50" y="259.10" width="6.03" height="36.80" fill="#b6b6b6" stroke="#808080" stroke-width="0.6"/>
<rect x="787.53" y="259.10" width="5.57" height="36.80" fill="#838383" stroke="#666" stroke-width="0.6"/>
<line x1="781.50" y1="281.90" x2="793.10" y2="283.40" stroke="#777" stroke-width="0.6"/>
<rect x="765.50" y="269.10" width="3.40" height="25.30" fill="#6c6c6c"/>
<rect x="766.45" y="269.10" width="1.22" height="25.30" fill="#a2a2a2"/>
<polygon points="768.80,266.70 828.30,246.50 828.30,250.90 768.80,271.10" fill="#8a8a8a" stroke="#686868" stroke-width="0.7" stroke-linejoin="round" />
<polygon points="740.50,261.10 768.80,266.70 768.80,271.10 740.50,265.50" fill="#bebebe" stroke="#777" stroke-width="0.7" stroke-linejoin="round" />
<polygon points="740.50,261.10 799.50,240.10 828.30,246.50 768.80,266.70" fill="#cdcdcd" stroke="#777" stroke-width="0.8" stroke-linejoin="round" />
<line x1="769.80" y1="269.50" x2="827.30" y2="249.30" stroke="#bdbdbd" stroke-width="0.9" stroke-dasharray="1.2 1.6"/>
<ellipse cx="766.60" cy="264.50" rx="2.3" ry="1.2" fill="#5c5c5c"/>
<ellipse cx="821.70" cy="245.70" rx="2.3" ry="1.2" fill="#5c5c5c"/>
<ellipse cx="746.70" cy="260.50" rx="2.3" ry="1.2" fill="#5c5c5c"/>
<ellipse cx="800.50" cy="242.50" rx="2.3" ry="1.2" fill="#5c5c5c"/>
<rect x="801.60" y="293.90" width="6.03" height="36.80" fill="#b6b6b6" stroke="#808080" stroke-width="0.6"/>
<rect x="807.63" y="293.90" width="5.57" height="36.80" fill="#838383" stroke="#666" stroke-width="0.6"/>
<line x1="801.60" y1="316.70" x2="813.20" y2="318.20" stroke="#777" stroke-width="0.6"/>
<rect x="785.60" y="303.90" width="3.40" height="25.30" fill="#6c6c6c"/>
<rect x="786.55" y="303.90" width="1.22" height="25.30" fill="#a2a2a2"/>
<polygon points="788.90,301.50 848.40,281.30 848.40,285.70 788.90,305.90" fill="#8a8a8a" stroke="#686868" stroke-width="0.7" stroke-linejoin="round" />
<polygon points="760.60,295.90 788.90,301.50 788.90,305.90 760.60,300.30" fill="#bebebe" stroke="#777" stroke-width="0.7" stroke-linejoin="round" />
<polygon points="760.60,295.90 819.60,274.90 848.40,281.30 788.90,301.50" fill="#cdcdcd" stroke="#777" stroke-width="0.8" stroke-linejoin="round" />
<line x1="789.90" y1="304.30" x2="847.40" y2="284.10" stroke="#bdbdbd" stroke-width="0.9" stroke-dasharray="1.2 1.6"/>
<ellipse cx="786.70" cy="299.30" rx="2.3" ry="1.2" fill="#5c5c5c"/>
<ellipse cx="841.80" cy="280.50" rx="2.3" ry="1.2" fill="#5c5c5c"/>
<ellipse cx="766.80" cy="295.30" rx="2.3" ry="1.2" fill="#5c5c5c"/>
<ellipse cx="820.60" cy="277.30" rx="2.3" ry="1.2" fill="#5c5c5c"/>
<rect x="821.70" y="328.70" width="6.03" height="36.80" fill="#b6b6b6" stroke="#808080" stroke-width="0.6"/>
<rect x="827.73" y="328.70" width="5.57" height="36.80" fill="#838383" stroke="#666" stroke-width="0.6"/>
<line x1="821.70" y1="351.50" x2="833.30" y2="353.00" stroke="#777" stroke-width="0.6"/>
<rect x="805.70" y="338.70" width="3.40" height="25.30" fill="#6c6c6c"/>
<rect x="806.65" y="338.70" width="1.22" height="25.30" fill="#a2a2a2"/>
<polygon points="809.00,336.30 868.50,316.10 868.50,320.50 809.00,340.70" fill="#8a8a8a" stroke="#686868" stroke-width="0.7" stroke-linejoin="round" />
<polygon points="780.70,330.70 809.00,336.30 809.00,340.70 780.70,335.10" fill="#bebebe" stroke="#777" stroke-width="0.7" stroke-linejoin="round" />
<polygon points="780.70,330.70 839.70,309.70 868.50,316.10 809.00,336.30" fill="#cdcdcd" stroke="#777" stroke-width="0.8" stroke-linejoin="round" />
<line x1="810.00" y1="339.10" x2="867.50" y2="318.90" stroke="#bdbdbd" stroke-width="0.9" stroke-dasharray="1.2 1.6"/>
<ellipse cx="806.80" cy="334.10" rx="2.3" ry="1.2" fill="#5c5c5c"/>
<ellipse cx="861.90" cy="315.30" rx="2.3" ry="1.2" fill="#5c5c5c"/>
<ellipse cx="786.90" cy="330.10" rx="2.3" ry="1.2" fill="#5c5c5c"/>
<ellipse cx="840.70" cy="312.10" rx="2.3" ry="1.2" fill="#5c5c5c"/>
<rect x="841.80" y="363.50" width="6.03" height="175.50" fill="#939393" stroke="#808080" stroke-width="0.6"/>
<rect x="847.83" y="363.50" width="5.57" height="175.50" fill="#666666" stroke="#666" stroke-width="0.6"/>
<polygon points="832.00,541.20 846.00,538.00 861.60,541.00 847.50,544.60" fill="#909090" stroke="#636363" stroke-width="0.7" stroke-linejoin="round" />
<rect x="841.80" y="500.00" width="6.03" height="39.30" fill="#939393" stroke="#808080" stroke-width="0.6"/>
<rect x="847.83" y="500.00" width="5.57" height="39.30" fill="#666666" stroke="#666" stroke-width="0.6"/>
<rect x="825.80" y="373.50" width="3.40" height="25.30" fill="#6c6c6c"/>
<rect x="826.75" y="373.50" width="1.22" height="25.30" fill="#a2a2a2"/>
<polygon points="829.10,371.10 888.60,350.90 888.60,355.30 829.10,375.50" fill="#8a8a8a" stroke="#686868" stroke-width="0.7" stroke-linejoin="round" />
<polygon points="800.80,365.50 829.10,371.10 829.10,375.50 800.80,369.90" fill="#bebebe" stroke="#777" stroke-width="0.7" stroke-linejoin="round" />
<polygon points="800.80,365.50 859.80,344.50 888.60,350.90 829.10,371.10" fill="#cdcdcd" stroke="#777" stroke-width="0.8" stroke-linejoin="round" />
<line x1="830.10" y1="373.90" x2="887.60" y2="353.70" stroke="#bdbdbd" stroke-width="0.9" stroke-dasharray="1.2 1.6"/>
<ellipse cx="826.90" cy="368.90" rx="2.3" ry="1.2" fill="#5c5c5c"/>
<ellipse cx="882.00" cy="350.10" rx="2.3" ry="1.2" fill="#5c5c5c"/>
<ellipse cx="807.00" cy="364.90" rx="2.3" ry="1.2" fill="#5c5c5c"/>
<ellipse cx="860.80" cy="346.90" rx="2.3" ry="1.2" fill="#5c5c5c"/>
<rect x="861.90" y="398.30" width="6.03" height="36.80" fill="#b6b6b6" stroke="#808080" stroke-width="0.6"/>
<rect x="867.93" y="398.30" width="5.57" height="36.80" fill="#838383" stroke="#666" stroke-width="0.6"/>
<line x1="861.90" y1="421.10" x2="873.50" y2="422.60" stroke="#777" stroke-width="0.6"/>
<rect x="845.90" y="408.30" width="3.40" height="25.30" fill="#6c6c6c"/>
<rect x="846.85" y="408.30" width="1.22" height="25.30" fill="#a2a2a2"/>
<polygon points="849.20,405.90 908.70,385.70 908.70,390.10 849.20,410.30" fill="#8a8a8a" stroke="#686868" stroke-width="0.7" stroke-linejoin="round" />
<polygon points="820.90,400.30 849.20,405.90 849.20,410.30 820.90,404.70" fill="#bebebe" stroke="#777" stroke-width="0.7" stroke-linejoin="round" />
<polygon points="820.90,400.30 879.90,379.30 908.70,385.70 849.20,405.90" fill="#cdcdcd" stroke="#777" stroke-width="0.8" stroke-linejoin="round" />
<line x1="850.20" y1="408.70" x2="907.70" y2="388.50" stroke="#bdbdbd" stroke-width="0.9" stroke-dasharray="1.2 1.6"/>
<ellipse cx="847.00" cy="403.70" rx="2.3" ry="1.2" fill="#5c5c5c"/>
<ellipse cx="902.10" cy="384.90" rx="2.3" ry="1.2" fill="#5c5c5c"/>
<ellipse cx="827.10" cy="399.70" rx="2.3" ry="1.2" fill="#5c5c5c"/>
<ellipse cx="880.90" cy="381.70" rx="2.3" ry="1.2" fill="#5c5c5c"/>
<rect x="882.00" y="433.10" width="6.03" height="36.80" fill="#b6b6b6" stroke="#808080" stroke-width="0.6"/>
<rect x="888.03" y="433.10" width="5.57" height="36.80" fill="#838383" stroke="#666" stroke-width="0.6"/>
<line x1="882.00" y1="455.90" x2="893.60" y2="457.40" stroke="#777" stroke-width="0.6"/>
<rect x="866.00" y="443.10" width="3.40" height="25.30" fill="#6c6c6c"/>
<rect x="866.95" y="443.10" width="1.22" height="25.30" fill="#a2a2a2"/>
<polygon points="869.30,440.70 928.80,420.50 928.80,424.90 869.30,445.10" fill="#8a8a8a" stroke="#686868" stroke-width="0.7" stroke-linejoin="round" />
<polygon points="841.00,435.10 869.30,440.70 869.30,445.10 841.00,439.50" fill="#bebebe" stroke="#777" stroke-width="0.7" stroke-linejoin="round" />
<polygon points="841.00,435.10 900.00,414.10 928.80,420.50 869.30,440.70" fill="#cdcdcd" stroke="#777" stroke-width="0.8" stroke-linejoin="round" />
<line x1="870.30" y1="443.50" x2="927.80" y2="423.30" stroke="#bdbdbd" stroke-width="0.9" stroke-dasharray="1.2 1.6"/>
<ellipse cx="867.10" cy="438.50" rx="2.3" ry="1.2" fill="#5c5c5c"/>
<ellipse cx="922.20" cy="419.70" rx="2.3" ry="1.2" fill="#5c5c5c"/>
<ellipse cx="847.20" cy="434.50" rx="2.3" ry="1.2" fill="#5c5c5c"/>
<ellipse cx="901.00" cy="416.50" rx="2.3" ry="1.2" fill="#5c5c5c"/>
<rect x="902.10" y="467.90" width="6.03" height="36.80" fill="#b6b6b6" stroke="#808080" stroke-width="0.6"/>
<rect x="908.13" y="467.90" width="5.57" height="36.80" fill="#838383" stroke="#666" stroke-width="0.6"/>
<line x1="902.10" y1="490.70" x2="913.70" y2="492.20" stroke="#777" stroke-width="0.6"/>
<rect x="886.10" y="477.90" width="3.40" height="25.30" fill="#6c6c6c"/>
<rect x="887.05" y="477.90" width="1.22" height="25.30" fill="#a2a2a2"/>
<polygon points="889.40,475.50 948.90,455.30 948.90,459.70 889.40,479.90" fill="#8a8a8a" stroke="#686868" stroke-width="0.7" stroke-linejoin="round" />
<polygon points="861.10,469.90 889.40,475.50 889.40,479.90 861.10,474.30" fill="#bebebe" stroke="#777" stroke-width="0.7" stroke-linejoin="round" />
<polygon points="861.10,469.90 920.10,448.90 948.90,455.30 889.40,475.50" fill="#cdcdcd" stroke="#777" stroke-width="0.8" stroke-linejoin="round" />
<line x1="890.40" y1="478.30" x2="947.90" y2="458.10" stroke="#bdbdbd" stroke-width="0.9" stroke-dasharray="1.2 1.6"/>
<ellipse cx="887.20" cy="473.30" rx="2.3" ry="1.2" fill="#5c5c5c"/>
<ellipse cx="942.30" cy="454.50" rx="2.3" ry="1.2" fill="#5c5c5c"/>
<ellipse cx="867.30" cy="469.30" rx="2.3" ry="1.2" fill="#5c5c5c"/>
<ellipse cx="921.10" cy="451.30" rx="2.3" ry="1.2" fill="#5c5c5c"/>
<rect x="922.20" y="502.70" width="6.03" height="36.80" fill="#b6b6b6" stroke="#808080" stroke-width="0.6"/>
<rect x="928.23" y="502.70" width="5.57" height="36.80" fill="#838383" stroke="#666" stroke-width="0.6"/>
<line x1="922.20" y1="525.50" x2="933.80" y2="527.00" stroke="#777" stroke-width="0.6"/>
<rect x="906.20" y="512.70" width="3.40" height="25.30" fill="#6c6c6c"/>
<rect x="907.15" y="512.70" width="1.22" height="25.30" fill="#a2a2a2"/>
<polygon points="909.50,510.30 969.00,490.10 969.00,494.50 909.50,514.70" fill="#8a8a8a" stroke="#686868" stroke-width="0.7" stroke-linejoin="round" />
<polygon points="881.20,504.70 909.50,510.30 909.50,514.70 881.20,509.10" fill="#bebebe" stroke="#777" stroke-width="0.7" stroke-linejoin="round" />
<polygon points="881.20,504.70 940.20,483.70 969.00,490.10 909.50,510.30" fill="#cdcdcd" stroke="#777" stroke-width="0.8" stroke-linejoin="round" />
<line x1="910.50" y1="513.10" x2="968.00" y2="492.90" stroke="#bdbdbd" stroke-width="0.9" stroke-dasharray="1.2 1.6"/>
<ellipse cx="907.30" cy="508.10" rx="2.3" ry="1.2" fill="#5c5c5c"/>
<ellipse cx="962.40" cy="489.30" rx="2.3" ry="1.2" fill="#5c5c5c"/>
<ellipse cx="887.40" cy="504.10" rx="2.3" ry="1.2" fill="#5c5c5c"/>
<ellipse cx="941.20" cy="486.10" rx="2.3" ry="1.2" fill="#5c5c5c"/>
<polygon points="933.30,561.60 947.50,558.00 962.40,561.40 948.50,565.60" fill="#909090" stroke="#636363" stroke-width="0.7" stroke-linejoin="round" />
<rect x="942.30" y="537.50" width="6.03" height="24.00" fill="#b6b6b6" stroke="#808080" stroke-width="0.6"/>
<rect x="948.33" y="537.50" width="5.57" height="24.00" fill="#838383" stroke="#666" stroke-width="0.6"/>
<rect x="926.30" y="547.50" width="3.40" height="24.00" fill="#6c6c6c"/>
<rect x="927.25" y="547.50" width="1.22" height="24.00" fill="#a2a2a2"/>
<ellipse cx="928.00" cy="572.2" rx="3.6" ry="1.4" fill="#8a8a8a" stroke="#666" stroke-width="0.5"/>
<rect x="980.00" y="527.50" width="3.60" height="25.00" fill="#6c6c6c"/>
<rect x="981.01" y="527.50" width="1.30" height="25.00" fill="#a2a2a2"/>
<ellipse cx="981.8" cy="553.2" rx="3.6" ry="1.4" fill="#8a8a8a" stroke="#666" stroke-width="0.5"/>
<polygon points="929.60,545.10 989.10,524.90 989.10,529.30 929.60,549.50" fill="#8a8a8a" stroke="#686868" stroke-width="0.7" stroke-linejoin="round" />
<polygon points="901.30,539.50 929.60,545.10 929.60,549.50 901.30,543.90" fill="#bebebe" stroke="#777" stroke-width="0.7" stroke-linejoin="round" />
<polygon points="901.30,539.50 960.30,518.50 989.10,524.90 929.60,545.10" fill="#cdcdcd" stroke="#777" stroke-width="0.8" stroke-linejoin="round" />
<line x1="930.60" y1="547.90" x2="988.10" y2="527.70" stroke="#bdbdbd" stroke-width="0.9" stroke-dasharray="1.2 1.6"/>
<ellipse cx="927.40" cy="542.90" rx="2.3" ry="1.2" fill="#5c5c5c"/>
<ellipse cx="982.50" cy="524.10" rx="2.3" ry="1.2" fill="#5c5c5c"/>
<ellipse cx="907.50" cy="538.90" rx="2.3" ry="1.2" fill="#5c5c5c"/>
<ellipse cx="961.30" cy="520.90" rx="2.3" ry="1.2" fill="#5c5c5c"/>
<rect x="779.30" y="68.60" width="3.80" height="138.70" fill="#686868"/>
<rect x="780.36" y="68.60" width="1.37" height="138.70" fill="#a6a6a6"/>
<rect x="799.40" y="103.30" width="3.80" height="138.80" fill="#686868"/>
<rect x="800.46" y="103.30" width="1.37" height="138.80" fill="#a6a6a6"/>
<rect x="819.50" y="138.00" width="3.80" height="138.90" fill="#686868"/>
<rect x="820.56" y="138.00" width="1.37" height="138.90" fill="#a6a6a6"/>
<rect x="839.60" y="172.70" width="3.80" height="139.00" fill="#686868"/>
<rect x="840.66" y="172.70" width="1.37" height="139.00" fill="#a6a6a6"/>
<rect x="859.70" y="207.40" width="3.80" height="139.10" fill="#686868"/>
<rect x="860.76" y="207.40" width="1.37" height="139.10" fill="#a6a6a6"/>
<rect x="879.80" y="242.10" width="3.80" height="139.20" fill="#686868"/>
<rect x="880.86" y="242.10" width="1.37" height="139.20" fill="#a6a6a6"/>
<rect x="899.90" y="276.80" width="3.80" height="139.30" fill="#686868"/>
<rect x="900.96" y="276.80" width="1.37" height="139.30" fill="#a6a6a6"/>
<rect x="920.00" y="311.50" width="3.80" height="139.40" fill="#686868"/>
<rect x="921.06" y="311.50" width="1.37" height="139.40" fill="#a6a6a6"/>
<rect x="940.10" y="346.20" width="3.80" height="139.50" fill="#686868"/>
<rect x="941.16" y="346.20" width="1.37" height="139.50" fill="#a6a6a6"/>
<rect x="960.20" y="380.90" width="3.80" height="139.60" fill="#686868"/>
<rect x="961.26" y="380.90" width="1.37" height="139.60" fill="#a6a6a6"/>
<rect x="980.30" y="415.60" width="3.80" height="109.90" fill="#686868"/>
<rect x="981.36" y="415.60" width="1.37" height="109.90" fill="#a6a6a6"/>
<polygon points="756.20,25.80 764.40,22.40 993.90,417.40 986.40,423.00" fill="#b2b2b2" stroke="#767676" stroke-width="0.9" stroke-linejoin="round" />
<line x1="758.66" y1="24.78" x2="988.65" y2="421.32" stroke="#8e8e8e" stroke-width="0.8"/>
<line x1="761.28" y1="23.69" x2="991.05" y2="419.53" stroke="#d9d9d9" stroke-width="1.4"/>
</g>
<g id="wm" style="mix-blend-mode:multiply">
<g transform="translate(104 664) rotate(-34)" fill="none" stroke="#cdcdcd" stroke-width="13" stroke-linecap="round" stroke-linejoin="round">
<path d="M5.5 -6 Q38.5 -2 38.5 -42 L38.5 -107 L88 -107 L88 -5.5 M123.3 -37.5 L195.3 -37.5 A36.0 36.0 0 1 0 185.2 -12.5 M269.9 -64.3 A36.0 36.0 0 1 0 269.9 -10.7 M292.9 -37.5 L364.9 -37.5 A36.0 36.0 0 1 0 354.8 -12.5 M397 -70.5 L397 2.5 M447 -70.5 L447 2.5 M397 -34 L447 -34 M492 -70.5 L492 2.5 M540.5 -70.5 L496 -7 M520 -36 L544.5 2.5 M570 -56 Q579 -71 600 -71 Q628 -71 628 -44 L628 3.5 M628 -36 L596 -36 Q566 -34 566 -15 Q566 4.5 591 4.5 Q616 4.5 628 -13"/>
</g></g>
<g id="wm3" transform="translate(348.5 498.9) rotate(-35.3)">
<mask id="wmm" maskUnits="userSpaceOnUse" x="-20" y="-80" width="480" height="120"><rect x="-20" y="-80" width="480" height="120" fill="#fff"/><text x="0" y="0" font-size="62" font-weight="bold" textLength="427.4" lengthAdjust="spacingAndGlyphs" fill="#000">lestnicy-prosto.ru</text></mask>
<text x="0" y="0" font-size="62" font-weight="bold" textLength="427.4" lengthAdjust="spacingAndGlyphs" fill="none" stroke="#a8a8a8" stroke-width="4.4" stroke-linejoin="round" mask="url(#wmm)">lestnicy-prosto.ru</text>
<text x="0" y="0" font-size="62" font-weight="bold" textLength="427.4" lengthAdjust="spacingAndGlyphs" fill="#f6f6f6" fill-opacity="0.46">lestnicy-prosto.ru</text>
</g>
</svg></body></html>
